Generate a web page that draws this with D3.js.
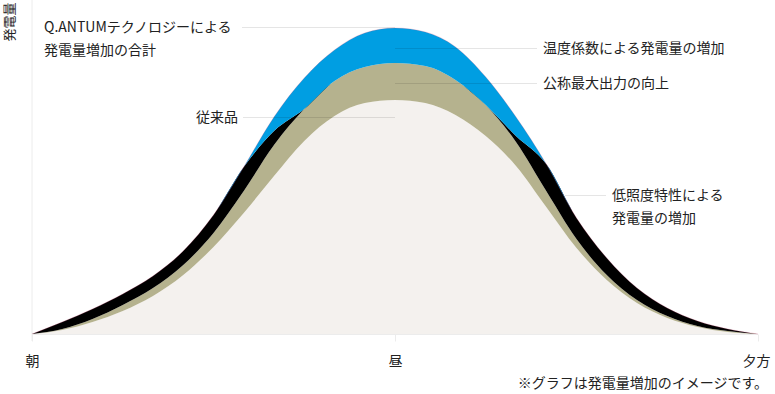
<!DOCTYPE html>
<html>
<head>
<meta charset="utf-8">
<script src="https://cdn.jsdelivr.net/npm/d3@7"></script>
<style>
    body { margin: 0; background: #fff; }
    text { font-family: "Noto Sans CJK JP", "Noto Sans", sans-serif; fill: #222; }
</style>
</head>
<body>
<svg id="chart"></svg>
<script>
// time slots from morning (0) to evening (24)
var slots = [0, 1, 2, 3, 4, 5, 6, 7, 8, 9, 10, 11, 12, 13, 14, 15, 16, 17, 18, 19, 20, 21, 22, 23, 24];
var timeTicks = [0, 12, 24];
var timeLabels = ["朝", "昼", "夕方"];

// generation (arbitrary units), stacked bottom to top
var conventional = [0, 4, 12, 23, 38, 59, 87, 121, 158, 193, 218, 231, 234, 231, 219, 198, 168, 127, 86, 54, 31, 16, 7, 2, 0];
var nominalGain  = [0, 1, 3, 6, 8, 10, 14, 22, 31, 32, 35, 36, 37, 37, 35, 31, 24, 16, 9, 5, 3, 2, 1, 1, 0];
var lowLightGain = [0, 7, 10, 11, 12, 14, 18, 24, 14, 0, 0, 0, 0, 0, 0, 0, 6, 27, 21, 17, 12, 8, 5, 2, 0];
var tempGain     = [0, 0, 0, 0, 0, 0, 0, 0, 14, 31, 31, 34, 35, 34, 33, 28, 19, 0, 0, 0, 0, 0, 0, 0, 0];

var keys = ["conventional", "nominal", "lowLight", "temp"];
var colors = { conventional: "#f4f1ee", nominal: "#b5b28e", lowLight: "#000000", temp: "#009ee2" };

var width = 775, height = 394;
var margin = { left: 32, right: 17, top: 28, bottom: 60 };

var svg = d3.select("#chart").attr("width", width).attr("height", height);

var x = d3.scaleLinear().domain([0, 24]).range([margin.left, width - margin.right]);
var y = d3.scaleLinear().domain([0, 306]).range([height - margin.bottom, margin.top]);

var table = slots.map(function (s, i) {
    return { slot: s, conventional: conventional[i], nominal: nominalGain[i], lowLight: lowLightGain[i], temp: tempGain[i] };
});
var series = d3.stack().keys(keys)(table);

// axis lines
svg.append("line").attr("x1", x(0)).attr("x2", x(0)).attr("y1", 0).attr("y2", y(0) + 7)
    .attr("stroke", "#ececec").attr("stroke-width", 1);
svg.append("line").attr("x1", x(0)).attr("x2", x(24)).attr("y1", y(0) + 0.5).attr("y2", y(0) + 0.5)
    .attr("stroke", "#ececec").attr("stroke-width", 1);

var area = d3.area()
    .curve(d3.curveMonotoneX)
    .x(function (d) { return x(d.data.slot); })
    .y0(function (d) { return y(d[0]); })
    .y1(function (d) { return y(d[1]); });

svg.selectAll(".layer")
    .data(series)
    .enter().append("path")
    .attr("class", "layer")
    .attr("d", area)
    .attr("fill", function (d) { return colors[d.key]; });

// faint reddish edge along the outer outline
var outline = d3.line()
    .curve(d3.curveMonotoneX)
    .x(function (d) { return x(d.data.slot); })
    .y(function (d) { return y(d[1]); });
svg.append("path").datum(series[series.length - 1]).attr("d", outline)
    .attr("fill", "none").attr("stroke", "#d6336c").attr("stroke-opacity", 0.35).attr("stroke-width", 0.6);

// ticks + labels on the time axis
var xAxis = d3.axisBottom(x).tickValues(timeTicks).tickSize(7).tickFormat(function (d, i) { return timeLabels[i]; });
var ax = svg.append("g").attr("transform", "translate(0," + (y(0) + 0.5) + ")").call(xAxis);
ax.select(".domain").remove();
ax.selectAll(".tick line").attr("stroke", "#ececec");
ax.selectAll(".tick text").attr("dy", "1.5em").style("font-size", "14px").style("fill", "#222");
ax.selectAll(".tick text").filter(function (d) { return d === 24; }).attr("dx", "-2");

// y label
svg.append("text").attr("transform", "translate(14,22) rotate(-90)")
    .attr("text-anchor", "middle").style("font-size", "13px").text("発電量");

// leader lines and annotations
var notes = [
    { x1: 242, x2: 395, y: 27, tx: 44, lines: ["Q.ANTUMテクノロジーによる", "発電量増加の合計"] },
    { x1: 395, x2: 537, y: 48, tx: 543, lines: ["温度係数による発電量の増加"] },
    { x1: 395, x2: 537, y: 83, tx: 543, lines: ["公称最大出力の向上"] },
    { x1: 243, x2: 395, y: 117, tx: 196, lines: ["従来品"] },
    { x1: 565, x2: 606, y: 195, tx: 612, lines: ["低照度特性による", "発電量の増加"] }
];

notes.forEach(function (n) {
    svg.append("line").attr("x1", n.x1).attr("x2", n.x2).attr("y1", n.y + 0.5).attr("y2", n.y + 0.5)
        .attr("stroke", "#000").attr("stroke-opacity", 0.1).attr("stroke-width", 1);
    n.lines.forEach(function (t, i) {
        svg.append("text").attr("x", n.tx).attr("y", n.y + 5 + i * 23)
            .style("font-size", "14px").text(t);
    });
});

svg.append("text").attr("x", 768).attr("y", 388).attr("text-anchor", "end")
    .style("font-size", "14px").text("※グラフは発電量増加のイメージです。");
</script>
</body>
</html>
